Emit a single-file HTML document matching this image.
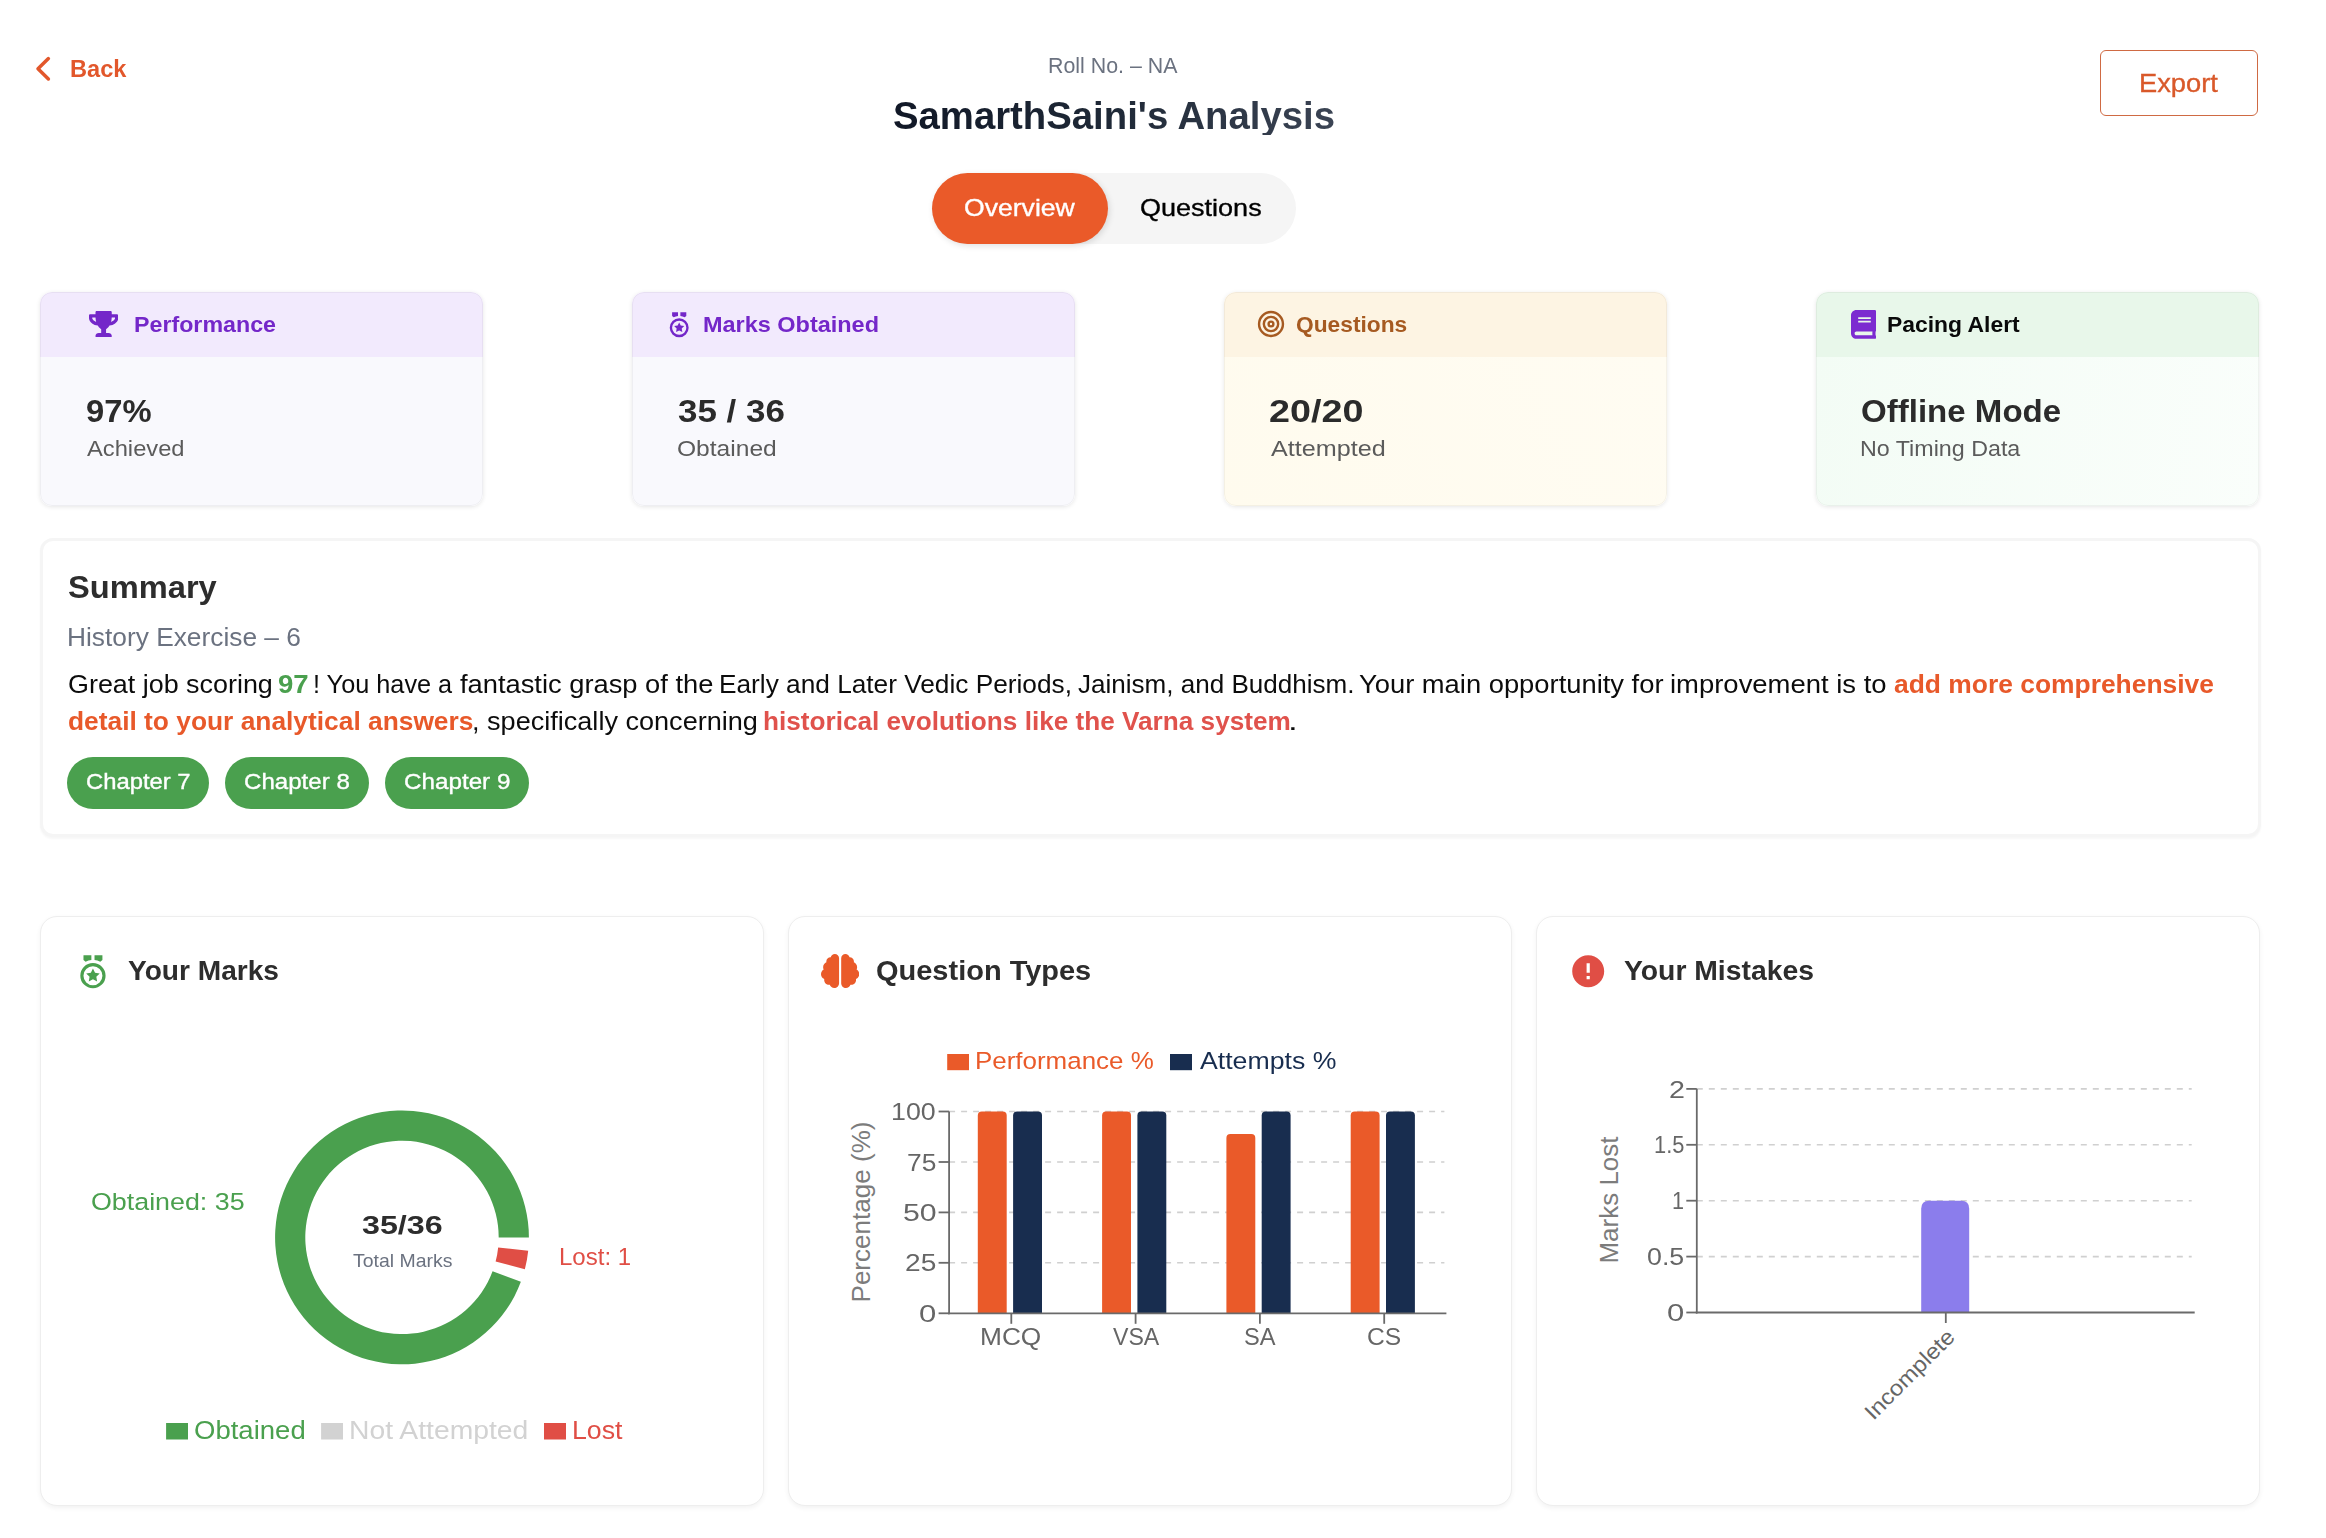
<!DOCTYPE html>
<html lang="en">
<head>
<meta charset="utf-8">
<title>SamarthSaini's Analysis</title>
<style>
*{box-sizing:border-box;margin:0;padding:0}
html,body{width:2326px;height:1538px;background:#fff;overflow:hidden}
body{position:relative;font-family:"Liberation Sans",sans-serif;color:#222}
.t{position:absolute;white-space:nowrap;line-height:1;transform-origin:0 0}
.abs{position:absolute}
.b{font-weight:700}
#export{left:2100px;top:50px;width:158px;height:66px;border:1.5px solid #cf6a43;border-radius:6px;background:#fff}
#tabs{left:931.7px;top:173px;width:364px;height:71px;border-radius:36px;background:#f5f5f5}
#tab-on{left:931.7px;top:173px;width:176px;height:71px;border-radius:36px;background:#ea5a29;box-shadow:1.5px 2px 6px rgba(0,0,0,.12)}
.sc{position:absolute;top:292px;width:443px;height:213.5px;border-radius:12px;overflow:hidden;box-shadow:0 1px 4px rgba(0,0,0,.10)}
.sc:after{content:"";position:absolute;inset:0;border-radius:12px;border:1px solid rgba(0,0,0,.045)}
.sc .h{position:absolute;left:0;top:0;width:100%;height:64.7px}
.sc .bd{position:absolute;left:0;top:64.7px;width:100%;height:150px}
.card{position:absolute;background:#fff}
#summary{left:40px;top:538px;width:2221px;height:298.5px;border-radius:13px;border:3px solid #f5f5f5;box-shadow:0 1.5px 2px rgba(0,0,0,.035)}
.bc{top:916px;width:724px;height:589.5px;border-radius:17px;border:1.5px solid #eeeeee;box-shadow:0 2px 5px rgba(0,0,0,.055)}
.chip{position:absolute;top:757px;height:51.6px;border-radius:26px;background:#4aa04e}
</style>
</head>
<body>

<!-- HEADER -->
<svg class="abs" style="left:30px;top:52px" width="28" height="34" viewBox="0 0 28 34"><path d="M18.400 6.600 L8 16.700 L18.400 26.900" fill="none" stroke="#e2572b" stroke-width="3.500" stroke-linecap="round" stroke-linejoin="round"/></svg>
<div class="abs" id="export"></div>
<div class="abs" id="tabs"></div>
<div class="abs" id="tab-on"></div>
<!-- STAT CARDS -->
<div class="sc" style="left:40.3px"><div class="h" style="background:#f2eafd"></div><div class="bd" style="background:#f9f9fd"></div></div>
<div class="sc" style="left:632.1px"><div class="h" style="background:#f2eafd"></div><div class="bd" style="background:#f9f9fd"></div></div>
<div class="sc" style="left:1223.9px"><div class="h" style="background:#fdf4e3"></div><div class="bd" style="background:linear-gradient(60deg,#fffbee,#fffcf2)"></div></div>
<div class="sc" style="left:1815.9px"><div class="h" style="background:#e8f7ea"></div><div class="bd" style="background:linear-gradient(100deg,#f3fcf5,#fafefb)"></div></div>
<!-- SUMMARY -->
<div class="card" id="summary"></div>
<div class="chip" style="left:66.9px;width:142.2px"></div>
<div class="chip" style="left:225px;width:143.7px"></div>
<div class="chip" style="left:384.9px;width:143.9px"></div>
<!-- BOTTOM CARDS -->
<div class="card bc" style="left:40px"></div>
<div class="card bc" style="left:788px"></div>
<div class="card bc" style="left:1536px"></div>
<!-- ICONS -->
<svg class="abs" style="left:88.800px;top:311.200px" width="29.250" height="26" viewBox="0 0 576 512"><path fill="#7427c9" d="M552 64H448V24c0-13.300-10.700-24-24-24H152c-13.300 0-24 10.700-24 24v40H24C10.700 64 0 74.700 0 88v56c0 35.700 22.500 72.400 61.900 100.700 31.500 22.700 69.800 37.100 110 41.700C203.300 338.500 240 360 240 360v72h-48c-35.300 0-64 20.700-64 56v12c0 6.600 5.400 12 12 12h296c6.600 0 12-5.400 12-12v-12c0-35.300-28.700-56-64-56h-48v-72s36.700-21.500 68.100-73.600c40.300-4.600 78.600-19 110-41.700 39.300-28.300 61.900-65 61.900-100.700V88c0-13.300-10.700-24-24-24zM99.300 192.800C74.900 175.200 64 155.600 64 144v-16h64.200c1 32.600 5.800 61.200 12.800 86.200-15.100-5.200-29.200-12.400-41.700-21.400zM512 144c0 16.100-17.700 36.100-35.300 48.800-12.500 9-26.700 16.200-41.800 21.400 7-25 11.800-53.600 12.800-86.200H512v16z"/></svg>
<svg class="abs" style="left:665.37px;top:310.23px" width="28.4" height="28.4" viewBox="0 0 24 24"><path fill="#7427c9" d="M12 7a8 8 0 1 1 0 16 8 8 0 0 1 0-16zm0 2a6 6 0 1 0 0 12 6 6 0 0 0 0-12zm0 1.500l1.323 2.680 2.957.430-2.140 2.085.505 2.946L12 17.250l-2.645 1.390.505-2.945-2.140-2.086 2.957-.430L12 10.500zM18 2v3l-1.363 1.138A9.935 9.935 0 0 0 13 5.049V2h5zm-7-.001v3.050a9.935 9.935 0 0 0-3.636 1.088L6 5V2l5-.001z"/></svg>
<svg class="abs" style="left:1256.35px;top:309.40px" width="30" height="30" viewBox="0 0 30 30"><g fill="none" stroke="#a65a21" stroke-width="2.400"><circle cx="15" cy="15" r="11.950"/><circle cx="15" cy="15" r="7.170"/><circle cx="15" cy="15" r="2.400"/></g></svg>
<svg class="abs" style="left:1851px;top:309.800px" width="25.200" height="28.800" viewBox="0 0 448 512"><path fill="#7c2bd0" d="M448 360V24c0-13.300-10.700-24-24-24H96C43 0 0 43 0 96v320c0 53 43 96 96 96h328c13.300 0 24-10.700 24-24v-16c0-7.500-3.500-14.300-8.900-18.700-4.200-15.400-4.200-59.300 0-74.700 5.400-4.300 8.900-11.100 8.900-18.600zM128 134c0-3.300 2.700-6 6-6h212c3.300 0 6 2.700 6 6v20c0 3.300-2.700 6-6 6H134c-3.300 0-6-2.700-6-6v-20zm0 64c0-3.300 2.700-6 6-6h212c3.300 0 6 2.700 6 6v20c0 3.300-2.700 6-6 6H134c-3.300 0-6-2.700-6-6v-20zm253.400 250H96c-17.700 0-32-14.300-32-32 0-17.600 14.400-32 32-32h285.400c-1.900 17.100-1.900 46.900 0 64z"/></svg>
<svg class="abs" style="left:73.58px;top:952.04px" width="37.9" height="37.9" viewBox="0 0 24 24"><path fill="#4aa04e" d="M12 7a8 8 0 1 1 0 16 8 8 0 0 1 0-16zm0 2a6 6 0 1 0 0 12 6 6 0 0 0 0-12zm0 1.500l1.323 2.680 2.957.430-2.140 2.085.505 2.946L12 17.250l-2.645 1.390.505-2.945-2.140-2.086 2.957-.430L12 10.500zM18 2v3l-1.363 1.138A9.935 9.935 0 0 0 13 5.049V2h5zm-7-.001v3.050a9.935 9.935 0 0 0-3.636 1.088L6 5V2l5-.001z"/></svg>
<svg class="abs" style="left:821px;top:954px" width="38.250" height="34" viewBox="0 0 576 512"><path fill="#ea5a29" d="M208 0c-29.900 0-54.700 20.500-61.800 48.200-.800 0-1.400-.200-2.200-.200-35.300 0-64 28.700-64 64 0 4.800.600 9.500 1.700 14C52.500 138 32 166.600 32 200c0 12.600 3.200 24.300 8.300 34.900C16.300 248.700 0 274.300 0 304c0 33.300 20.400 61.900 49.400 73.900-.900 4.600-1.400 9.300-1.400 14.100 0 39.800 32.200 72 72 72 4.100 0 8.100-.500 12-1.200 9.600 28.500 36.200 49.200 68 49.200 39.800 0 72-32.200 72-72V64c0-35.300-28.700-64-64-64zm368 304c0-29.700-16.300-55.300-40.300-69.100 5.200-10.600 8.300-22.300 8.300-34.900 0-33.400-20.500-62-49.700-74 1-4.500 1.700-9.200 1.700-14 0-35.300-28.700-64-64-64-.800 0-1.500.200-2.200.200C422.700 20.500 397.900 0 368 0c-35.300 0-64 28.600-64 64v376c0 39.800 32.200 72 72 72 31.800 0 58.400-20.700 68-49.200 3.900.700 7.900 1.200 12 1.200 39.800 0 72-32.200 72-72 0-4.800-.500-9.500-1.400-14.100 29-12 49.400-40.600 49.400-73.900z"/></svg>
<svg class="abs" style="left:1568.800px;top:951.800px" width="38.400" height="38.400" viewBox="0 0 24 24"><path fill="#e04e45" d="M12 2C6.480 2 2 6.480 2 12s4.480 10 10 10 10-4.480 10-10S17.520 2 12 2zm1 15h-2v-2h2v2zm0-4h-2V7h2v6z"/></svg>

<!-- CHARTS -->
<svg class="abs" style="left:0;top:0" width="2326" height="1538" viewBox="0 0 2326 1538">
<path fill="#4aa04e" d="M528.90 1237.40A126.9 126.9 0 1 0 520.86 1281.84L492.58 1271.27A96.7 96.7 0 1 1 498.70 1237.40Z"/>
<path fill="#e04e45" d="M524.86 1269.17A126.9 126.9 0 0 0 528.20 1250.66L498.17 1247.51A96.7 96.7 0 0 1 495.62 1261.61Z"/>
<line x1="949.1" y1="1262.8" x2="1444.4" y2="1262.8" stroke="#d0d0d0" stroke-width="1.600" stroke-dasharray="6 6"/>
<line x1="949.1" y1="1212.4" x2="1444.4" y2="1212.4" stroke="#d0d0d0" stroke-width="1.600" stroke-dasharray="6 6"/>
<line x1="949.1" y1="1162.0" x2="1444.4" y2="1162.0" stroke="#d0d0d0" stroke-width="1.600" stroke-dasharray="6 6"/>
<line x1="949.1" y1="1111.5" x2="1444.4" y2="1111.5" stroke="#d0d0d0" stroke-width="1.600" stroke-dasharray="6 6"/>
<path fill="#ea5a29" d="M977.8 1313.3V1115.5Q977.8 1111.5 981.8 1111.5H1002.7Q1006.7 1111.5 1006.7 1115.5V1313.3Z"/>
<path fill="#182d4f" d="M1013.1 1313.3V1115.5Q1013.1 1111.5 1017.1 1111.5H1038.0Q1042.0 1111.5 1042.0 1115.5V1313.3Z"/>
<line x1="1011.3" y1="1313.3" x2="1011.3" y2="1323.8" stroke="#6a6a6a" stroke-width="1.800"/>
<path fill="#ea5a29" d="M1102.1 1313.3V1115.5Q1102.1 1111.5 1106.1 1111.5H1127.0Q1131.0 1111.5 1131.0 1115.5V1313.3Z"/>
<path fill="#182d4f" d="M1137.4 1313.3V1115.5Q1137.4 1111.5 1141.4 1111.5H1162.3Q1166.3 1111.5 1166.3 1115.5V1313.3Z"/>
<line x1="1135.6" y1="1313.3" x2="1135.6" y2="1323.8" stroke="#6a6a6a" stroke-width="1.800"/>
<path fill="#ea5a29" d="M1226.4 1313.3V1137.9Q1226.4 1133.9 1230.4 1133.9H1251.3Q1255.3 1133.9 1255.3 1137.9V1313.3Z"/>
<path fill="#182d4f" d="M1261.7 1313.3V1115.5Q1261.7 1111.5 1265.7 1111.5H1286.6Q1290.6 1111.5 1290.6 1115.5V1313.3Z"/>
<line x1="1259.9" y1="1313.3" x2="1259.9" y2="1323.8" stroke="#6a6a6a" stroke-width="1.800"/>
<path fill="#ea5a29" d="M1350.7 1313.3V1115.5Q1350.7 1111.5 1354.7 1111.5H1375.6Q1379.6 1111.5 1379.6 1115.5V1313.3Z"/>
<path fill="#182d4f" d="M1386.0 1313.3V1115.5Q1386.0 1111.5 1390.0 1111.5H1410.9Q1414.9 1111.5 1414.9 1115.5V1313.3Z"/>
<line x1="1384.2" y1="1313.3" x2="1384.2" y2="1323.8" stroke="#6a6a6a" stroke-width="1.800"/>
<line x1="949.1" y1="1111.5" x2="949.1" y2="1314.3" stroke="#6a6a6a" stroke-width="1.800"/>
<line x1="948.1" y1="1313.3" x2="1446.4" y2="1313.3" stroke="#6a6a6a" stroke-width="1.800"/>
<line x1="938.6" y1="1313.3" x2="949.1" y2="1313.3" stroke="#6a6a6a" stroke-width="1.800"/>
<line x1="938.6" y1="1262.8" x2="949.1" y2="1262.8" stroke="#6a6a6a" stroke-width="1.800"/>
<line x1="938.6" y1="1212.4" x2="949.1" y2="1212.4" stroke="#6a6a6a" stroke-width="1.800"/>
<line x1="938.6" y1="1162.0" x2="949.1" y2="1162.0" stroke="#6a6a6a" stroke-width="1.800"/>
<line x1="938.6" y1="1111.5" x2="949.1" y2="1111.5" stroke="#6a6a6a" stroke-width="1.800"/>
<rect x="947.200" y="1054" width="21.800" height="16.200" fill="#ea5a29"/>
<rect x="1170" y="1054" width="22" height="16.200" fill="#182d4f"/>
<line x1="1696.8" y1="1256.6" x2="2191.7" y2="1256.6" stroke="#d0d0d0" stroke-width="1.600" stroke-dasharray="6 6"/>
<line x1="1696.8" y1="1200.7" x2="2191.7" y2="1200.7" stroke="#d0d0d0" stroke-width="1.600" stroke-dasharray="6 6"/>
<line x1="1696.8" y1="1144.8" x2="2191.7" y2="1144.8" stroke="#d0d0d0" stroke-width="1.600" stroke-dasharray="6 6"/>
<line x1="1696.8" y1="1088.9" x2="2191.7" y2="1088.9" stroke="#d0d0d0" stroke-width="1.600" stroke-dasharray="6 6"/>
<path fill="#8b7dec" d="M1921.2 1312.5V1208.7Q1921.2 1200.7 1929.2 1200.7H1961.2Q1969.2 1200.7 1969.2 1208.7V1312.5Z"/>
<line x1="1696.8" y1="1088.9" x2="1696.8" y2="1313.5" stroke="#6a6a6a" stroke-width="1.800"/>
<line x1="1695.8" y1="1312.5" x2="2194.7" y2="1312.5" stroke="#6a6a6a" stroke-width="1.800"/>
<line x1="1686.3" y1="1312.5" x2="1696.8" y2="1312.5" stroke="#6a6a6a" stroke-width="1.800"/>
<line x1="1686.3" y1="1256.6" x2="1696.8" y2="1256.6" stroke="#6a6a6a" stroke-width="1.800"/>
<line x1="1686.3" y1="1200.7" x2="1696.8" y2="1200.7" stroke="#6a6a6a" stroke-width="1.800"/>
<line x1="1686.3" y1="1144.8" x2="1696.8" y2="1144.8" stroke="#6a6a6a" stroke-width="1.800"/>
<line x1="1686.3" y1="1088.9" x2="1696.8" y2="1088.9" stroke="#6a6a6a" stroke-width="1.800"/>
<line x1="1945.800" y1="1312.5" x2="1945.800" y2="1323.0" stroke="#6a6a6a" stroke-width="1.800"/>
<rect x="166.100" y="1423" width="21.900" height="16.500" fill="#4aa04e"/>
<rect x="321.100" y="1423" width="21.900" height="16.500" fill="#d2d2d2"/>
<rect x="544" y="1423" width="22" height="16.500" fill="#e04e45"/>
</svg>

<!-- TEXT -->
<div class="t b" id="back" style="left:70.11px;top:57.80px;font-size:23px;color:#e2572b;transform:scaleX(1.0262);">Back</div>
<div class="t" id="roll" style="left:1047.65px;top:54.70px;font-size:22px;color:#6b7280;transform:scaleX(0.9711);">Roll No. – NA</div>
<h1 class="t b" id="title" style="left:892.64px;top:96.91px;font-size:38px;color:#1f2937;transform:scaleX(1.0080);background:linear-gradient(90deg,#111827 0%,#1f2937 50%,#3b4454 100%);-webkit-background-clip:text;background-clip:text;color:transparent">SamarthSaini's Analysis</h1>
<div class="t" id="exportt" style="left:2138.52px;top:70.91px;font-size:25px;color:#d9592a;transform:scaleX(1.0922);-webkit-text-stroke:.35px">Export</div>
<div class="t" id="ov" style="left:963.96px;top:196.31px;font-size:24px;color:#fff;transform:scaleX(1.1075);-webkit-text-stroke:.35px">Overview</div>
<div class="t" id="qs" style="left:1140.23px;top:196.31px;font-size:24px;color:#000;transform:scaleX(1.1258);-webkit-text-stroke:.35px">Questions</div>
<h3 class="t b" id="s1h" style="left:133.92px;top:313.91px;font-size:22px;color:#7427c9;transform:scaleX(1.0556);">Performance</h3>
<h3 class="t b" id="s2h" style="left:702.90px;top:313.91px;font-size:22px;color:#7427c9;transform:scaleX(1.0663);">Marks Obtained</h3>
<h3 class="t b" id="s3h" style="left:1295.87px;top:313.91px;font-size:22px;color:#a65a21;transform:scaleX(1.0340);">Questions</h3>
<h3 class="t b" id="s4h" style="left:1887.00px;top:313.91px;font-size:22px;color:#0a0a0a;transform:scaleX(1.0405);">Pacing Alert</h3>
<div class="t b" id="s1v" style="left:85.81px;top:395.60px;font-size:31.5px;color:#2b2b2b;transform:scaleX(1.0400);">97%</div>
<div class="t b" id="s2v" style="left:678.02px;top:395.60px;font-size:31.5px;color:#2b2b2b;transform:scaleX(1.1090);">35 / 36</div>
<div class="t b" id="s3v" style="left:1269.30px;top:395.60px;font-size:31.5px;color:#2b2b2b;transform:scaleX(1.1974);">20/20</div>
<div class="t b" id="s4v" style="left:1861.34px;top:395.60px;font-size:31.5px;color:#2b2b2b;transform:scaleX(1.0493);">Offline Mode</div>
<div class="t" id="s1l" style="left:86.50px;top:438.00px;font-size:22px;color:#5b5b5b;transform:scaleX(1.0779);">Achieved</div>
<div class="t" id="s2l" style="left:677.03px;top:438.00px;font-size:22px;color:#5b5b5b;transform:scaleX(1.1172);">Obtained</div>
<div class="t" id="s3l" style="left:1270.50px;top:438.00px;font-size:22px;color:#5b5b5b;transform:scaleX(1.1434);">Attempted</div>
<div class="t" id="s4l" style="left:1860.30px;top:438.00px;font-size:22px;color:#5b5b5b;transform:scaleX(1.0573);">No Timing Data</div>
<h2 class="t b" id="sumh" style="left:67.88px;top:571.11px;font-size:32px;color:#2d2d2d;transform:scaleX(1.0200);">Summary</h2>
<div class="t" id="sums" style="left:66.54px;top:624.71px;font-size:25px;color:#6b7280;transform:scaleX(1.0522);">History Exercise – 6</div>
<div class="t" id="c1" style="left:85.96px;top:772.41px;font-size:21.5px;color:#fff;transform:scaleX(1.1073);-webkit-text-stroke:.35px">Chapter 7</div>
<div class="t" id="c2" style="left:244.16px;top:772.41px;font-size:21.5px;color:#fff;transform:scaleX(1.1204);-webkit-text-stroke:.35px">Chapter 8</div>
<div class="t" id="c3" style="left:403.73px;top:772.41px;font-size:21.5px;color:#fff;transform:scaleX(1.1267);-webkit-text-stroke:.35px">Chapter 9</div>
<h2 class="t b" id="b1h" style="left:128.15px;top:957.41px;font-size:28px;color:#2d2d2d;transform:scaleX(1.0037);">Your Marks</h2>
<h2 class="t b" id="b2h" style="left:875.97px;top:957.41px;font-size:28px;color:#2d2d2d;transform:scaleX(1.0350);">Question Types</h2>
<h2 class="t b" id="b3h" style="left:1624.49px;top:957.41px;font-size:28px;color:#2d2d2d;transform:scaleX(1.0115);">Your Mistakes</h2>
<div class="t" id="dl1" style="left:90.91px;top:1190.21px;font-size:24.5px;color:#4aa04e;transform:scaleX(1.0944);">Obtained: 35</div>
<div class="t" id="dl2" style="left:558.89px;top:1245.21px;font-size:24.5px;color:#e04e45;transform:scaleX(0.9801);">Lost: 1</div>
<div class="t b" id="dc1" style="left:361.89px;top:1211.61px;font-size:26.5px;color:#2d2d2d;transform:scaleX(1.2169);">35/36</div>
<div class="t" id="dc2" style="left:352.69px;top:1251.01px;font-size:19px;color:#6b7280;transform:scaleX(1.0234);">Total Marks</div>
<div class="t" id="lg1a" style="left:194.33px;top:1418.01px;font-size:25px;color:#4aa04e;transform:scaleX(1.1008);">Obtained</div>
<div class="t" id="lg1b" style="left:349.02px;top:1418.01px;font-size:25px;color:#d2d2d2;transform:scaleX(1.1321);">Not Attempted</div>
<div class="t" id="lg1c" style="left:571.92px;top:1418.01px;font-size:25px;color:#e04e45;transform:scaleX(1.0696);">Lost</div>
<div class="t" id="lg2a" style="left:975.09px;top:1048.90px;font-size:24.5px;color:#ea5a29;transform:scaleX(1.0584);">Performance %</div>
<div class="t" id="lg2b" style="left:1200.35px;top:1048.90px;font-size:24.5px;color:#182d4f;transform:scaleX(1.0884);">Attempts %</div>
<div class="t" id="y2_100" style="left:891.36px;top:1101.11px;font-size:23.5px;color:#666;transform:scaleX(1.1401);">100</div>
<div class="t" id="y2_75" style="left:906.96px;top:1151.61px;font-size:23.5px;color:#666;transform:scaleX(1.1208);">75</div>
<div class="t" id="y2_50" style="left:902.71px;top:1202.00px;font-size:23.5px;color:#666;transform:scaleX(1.2866);">50</div>
<div class="t" id="y2_25" style="left:904.94px;top:1252.41px;font-size:23.5px;color:#666;transform:scaleX(1.1959);">25</div>
<div class="t" id="y2_0" style="left:918.96px;top:1302.80px;font-size:23.5px;color:#666;transform:scaleX(1.3200);">0</div>
<div class="t" id="x2_0" style="left:979.88px;top:1324.71px;font-size:24px;color:#666;transform:scaleX(1.0943);">MCQ</div>
<div class="t" id="x2_1" style="left:1112.61px;top:1324.71px;font-size:24px;color:#666;transform:scaleX(0.9634);">VSA</div>
<div class="t" id="x2_2" style="left:1243.67px;top:1324.71px;font-size:24px;color:#666;transform:scaleX(0.9839);">SA</div>
<div class="t" id="x2_3" style="left:1367.22px;top:1324.71px;font-size:24px;color:#666;transform:scaleX(1.0258);">CS</div>
<div class="t" id="y3_4" style="left:1668.70px;top:1078.50px;font-size:23.5px;color:#666;transform:scaleX(1.2186);">2</div>
<div class="t" id="y3_3" style="left:1653.72px;top:1134.30px;font-size:23.5px;color:#666;transform:scaleX(0.9300);">1.5</div>
<div class="t" id="y3_2" style="left:1671.51px;top:1190.41px;font-size:23.5px;color:#666;transform:scaleX(0.9200);">1</div>
<div class="t" id="y3_1" style="left:1646.93px;top:1246.41px;font-size:23.5px;color:#666;transform:scaleX(1.1387);">0.5</div>
<div class="t" id="y3_0" style="left:1666.96px;top:1302.00px;font-size:23.5px;color:#666;transform:scaleX(1.3200);">0</div>
<p id="summary-text">
<span class="t" id="pA" style="left:67.57px;top:671.60px;font-size:25px;color:#0c0c0c;transform:scaleX(1.0759);">Great job scoring</span>
<span class="t b" id="pB" style="left:278.46px;top:671.60px;font-size:25px;color:#4aa04e;transform:scaleX(1.1038);">97</span>
<span class="t" id="pC" style="left:313.43px;top:671.60px;font-size:25px;color:#0c0c0c;transform:scaleX(1.0111);">! You have a</span>
<span class="t" id="pC2" style="left:460.08px;top:671.60px;font-size:25px;color:#0c0c0c;transform:scaleX(1.0918);">fantastic grasp of the</span>
<span class="t" id="pD" style="left:718.96px;top:671.60px;font-size:25px;color:#0c0c0c;transform:scaleX(1.0495);">Early and Later Vedic Periods,</span>
<span class="t" id="pE" style="left:1078.04px;top:671.60px;font-size:25px;color:#0c0c0c;transform:scaleX(1.0418);">Jainism, and Buddhism.</span>
<span class="t" id="pF" style="left:1359.39px;top:671.60px;font-size:25px;color:#0c0c0c;transform:scaleX(1.0937);">Your main opportunity for</span>
<span class="t" id="pG" style="left:1670.35px;top:671.60px;font-size:25px;color:#0c0c0c;transform:scaleX(1.0978);">improvement is to</span>
<span class="t b" id="pH" style="left:1893.71px;top:671.60px;font-size:25px;color:#e8592a;transform:scaleX(1.0564);">add more comprehensive</span>
<span class="t b" id="pI" style="left:67.59px;top:709.10px;font-size:25px;color:#e8592a;transform:scaleX(1.0534);">detail to your analytical answers</span>
<span class="t" id="pJ" style="left:471.63px;top:709.10px;font-size:25px;color:#0c0c0c;transform:scaleX(1.0829);">, specifically concerning</span>
<span class="t b" id="pK" style="left:762.67px;top:709.10px;font-size:25px;color:#e0524c;transform:scaleX(1.0464);">historical evolutions like the Varna system</span>
<span class="t" id="pL" style="left:1288.35px;top:709.10px;font-size:25px;color:#0c0c0c;transform:scaleX(1.4000);">.</span>
</p>
<div class="abs" style="left:870.1px;top:1211.7px;width:0;height:0;transform:rotate(-90deg)"><div class="t" id="yl2" style="left:0;top:-21.16px;font-size:25px;color:#7c7c7c;transform-origin:50% 0;transform:translateX(-50%) scaleX(1.0420)">Percentage (%)</div></div>
<div class="abs" style="left:1617.9px;top:1200.1px;width:0;height:0;transform:rotate(-90deg)"><div class="t" id="yl3" style="left:0;top:-21.16px;font-size:25px;color:#7c7c7c;transform-origin:50% 0;transform:translateX(-50%) scaleX(1.0395)">Marks Lost</div></div>
<div class="abs" style="left:1957.3px;top:1338.6px;width:0;height:0;transform:rotate(-45deg)"><div class="t" id="x3" style="left:0;top:-18.62px;font-size:22px;color:#666;transform-origin:100% 0;transform:translateX(-100%) scaleX(1.0883)">Incomplete</div></div>
</body>
</html>
